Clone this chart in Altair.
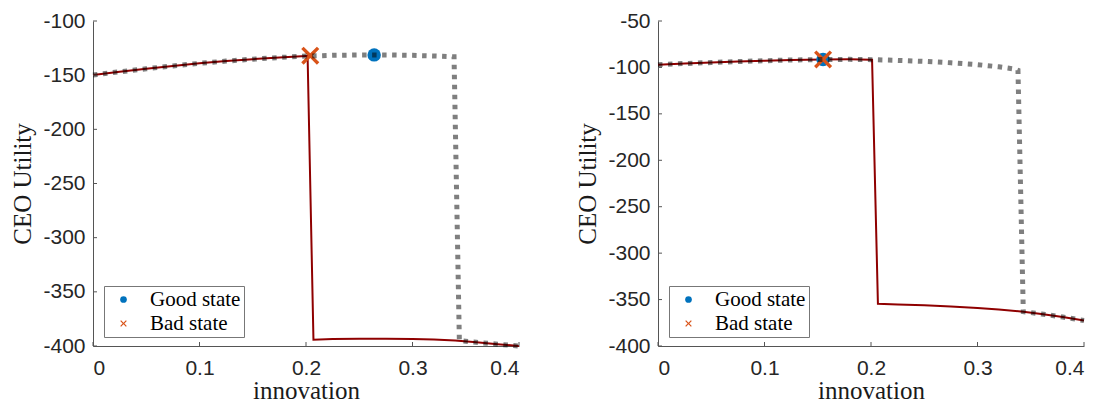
import altair as alt
import pandas as pd

# ---------------- data ----------------
# Left panel
L_GRAY_X = [0, 0.025, 0.05, 0.075, 0.1, 0.125, 0.15, 0.175, 0.2, 0.225, 0.25, 0.264,
            0.28, 0.3, 0.32, 0.339, 0.344, 0.36, 0.38, 0.4]
L_GRAY_Y = [-149.8, -146.9, -144.1, -141.5, -139.1, -137.0, -135.2, -133.7, -132.4, -131.7,
            -131.4, -131.3, -131.4, -131.7, -132.3, -133.0, -395.0, -396.6, -398.3, -400.0]
L_RED_X = [0, 0.025, 0.05, 0.075, 0.1, 0.125, 0.15, 0.175, 0.2, 0.2015, 0.207, 0.225,
           0.25, 0.275, 0.3, 0.32, 0.34, 0.36, 0.38, 0.4]
L_RED_Y = [-149.8, -146.9, -144.1, -141.5, -139.1, -137.0, -135.2, -133.7, -132.4, -132.3,
           -394.3, -393.6, -393.3, -393.2, -393.5, -394.1, -395.0, -396.6, -398.3, -400.0]
L_GOOD = (0.264, -131.3)
L_BAD = (0.204, -132.0)

# Right panel
R_GRAY_X = [0, 0.025, 0.05, 0.075, 0.1, 0.125, 0.155, 0.18, 0.2, 0.225, 0.25, 0.275,
            0.3, 0.32, 0.335, 0.338, 0.343, 0.36, 0.38, 0.4]
R_GRAY_Y = [-97.0, -95.8, -94.7, -93.7, -92.8, -92.0, -91.4, -91.3, -91.6, -92.4, -93.5,
            -95.0, -97.0, -99.3, -101.8, -103.0, -363.0, -365.5, -368.8, -372.5]
R_RED_X = [0, 0.025, 0.05, 0.075, 0.1, 0.125, 0.155, 0.18, 0.2, 0.201, 0.2065, 0.225,
           0.25, 0.275, 0.3, 0.32, 0.343, 0.36, 0.38, 0.4]
R_RED_Y = [-97.0, -95.8, -94.7, -93.7, -92.8, -92.0, -91.4, -91.3, -91.6, -91.6, -354.5,
           -355.2, -356.2, -357.5, -359.0, -360.8, -363.0, -365.5, -368.8, -372.5]
R_GOOD = (0.155, -91.4)
R_BAD = (0.155, -91.4)

STATES = ["Good state", "Bad state"]
X_TICKS = [0, 0.1, 0.2, 0.3, 0.4]
L_Y_TICKS = [-400, -350, -300, -250, -200, -150, -100]
R_Y_TICKS = [-400, -350, -300, -250, -200, -150, -100, -50]

# ---------------- styling ----------------
W, H = 426, 325
BLUE = "#0072BD"
ORANGE = "#D95319"
DARK_RED = "#8f0000"
AXIS_COLOR = "#555555"
SERIF = "Liberation Serif"
SANS = "Liberation Sans"
# filled X-shaped marker (unit square path)
X_PATH = ("M0.98,0.72L0.72,0.98L0,0.26L-0.72,0.98L-0.98,0.72L-0.26,0L-0.98,-0.72"
          "L-0.72,-0.98L0,-0.26L0.72,-0.98L0.98,-0.72L0.26,0Z")


def panel(gx, gy, rx, ry, good, bad, y_ticks):
    ydom = [y_ticks[0], y_ticks[-1]]
    xs = alt.Scale(domain=[0, 0.4], nice=False, zero=False)
    ys = alt.Scale(domain=ydom, nice=False, zero=False)

    x_axis = alt.Axis(values=X_TICKS, format=".1~f", ticks=False, tickSize=0, grid=False,
                      labelPadding=11, labelFont=SANS, labelFontSize=21,
                      labelColor="#262626", title="innovation", titleFont=SERIF,
                      titleFontSize=25, titleFontWeight="normal", titleColor="#1a1a1a",
                      titlePadding=0, domainColor=AXIS_COLOR)
    y_axis = alt.Axis(values=y_ticks, labelExpr="'' + datum.value", ticks=False,
                      tickSize=0, grid=False, labelPadding=8, labelFont=SANS,
                      labelFontSize=21, labelColor="#262626", title="CEO Utility",
                      titleFont=SERIF, titleFontSize=25, titleFontWeight="normal",
                      titleColor="#1a1a1a", titlePadding=7, domainColor=AXIS_COLOR)

    red_df = pd.DataFrame({"x": rx, "y": ry})
    gray_df = pd.DataFrame({"x": gx, "y": gy})
    good_df = pd.DataFrame({"state": [STATES[0]], "x": [good[0]], "y": [good[1]]})
    bad_df = pd.DataFrame({"state": [STATES[1]], "x": [bad[0]], "y": [bad[1]]})

    red = alt.Chart(red_df).mark_line(color=DARK_RED, strokeWidth=2).encode(
        x=alt.X("x:Q", scale=xs, axis=x_axis),
        y=alt.Y("y:Q", scale=ys, axis=y_axis),
        order="x:Q",
    )
    gray = alt.Chart(gray_df).mark_line(
        color="black", opacity=0.5, strokeWidth=5, strokeDash=[4.5, 5.5], strokeCap="butt"
    ).encode(x="x:Q", y="y:Q", order="x:Q")

    legend = alt.Legend(
        orient="none", legendX=11, legendY=265, title=None, direction="vertical",
        labelFont=SERIF, labelFontSize=21, labelColor="black", labelOffset=16,
        symbolSize=45, symbolOffset=6, symbolStrokeWidth=0, padding=3, rowPadding=2,
        strokeColor="#777777", fillColor="white", labelLimit=300,
    )
    color = alt.Color("state:N", scale=alt.Scale(domain=STATES, range=[BLUE, ORANGE]),
                      legend=legend)
    shape = alt.Shape("state:N", scale=alt.Scale(domain=STATES, range=["circle", X_PATH]),
                      legend=legend)

    good_pt = alt.Chart(good_df).mark_point(
        filled=True, opacity=1, strokeWidth=0, size=180
    ).encode(x="x:Q", y="y:Q", color=color, shape=shape)
    bad_pt = alt.Chart(bad_df).mark_point(
        filled=True, opacity=1, strokeWidth=0, size=340
    ).encode(x="x:Q", y="y:Q", color=color, shape=shape)

    ytk = alt.Chart(pd.DataFrame({"v": y_ticks})).mark_rule(
        color=AXIS_COLOR, strokeWidth=1
    ).encode(y="v:Q", x=alt.value(0), x2=alt.value(4))
    xtk = alt.Chart(pd.DataFrame({"t": X_TICKS})).mark_rule(
        color=AXIS_COLOR, strokeWidth=1
    ).encode(x="t:Q", y=alt.value(H), y2=alt.value(H - 4))

    return alt.layer(red, good_pt, bad_pt, gray, ytk, xtk).properties(width=W, height=H)


left = panel(L_GRAY_X, L_GRAY_Y, L_RED_X, L_RED_Y, L_GOOD, L_BAD, L_Y_TICKS)
right = panel(R_GRAY_X, R_GRAY_Y, R_RED_X, R_RED_Y, R_GOOD, R_BAD, R_Y_TICKS)

chart = (
    alt.hconcat(left, right, spacing=46)
    .resolve_scale(y="independent", color="independent", shape="independent")
    .resolve_legend(color="independent", shape="independent")
    .properties(padding={"left": 10, "top": 10, "right": 2, "bottom": 0},
                background="white")
    .configure_view(stroke=None)
)

chart.save("out.html", embed_options={"renderer": "svg", "actions": False})
